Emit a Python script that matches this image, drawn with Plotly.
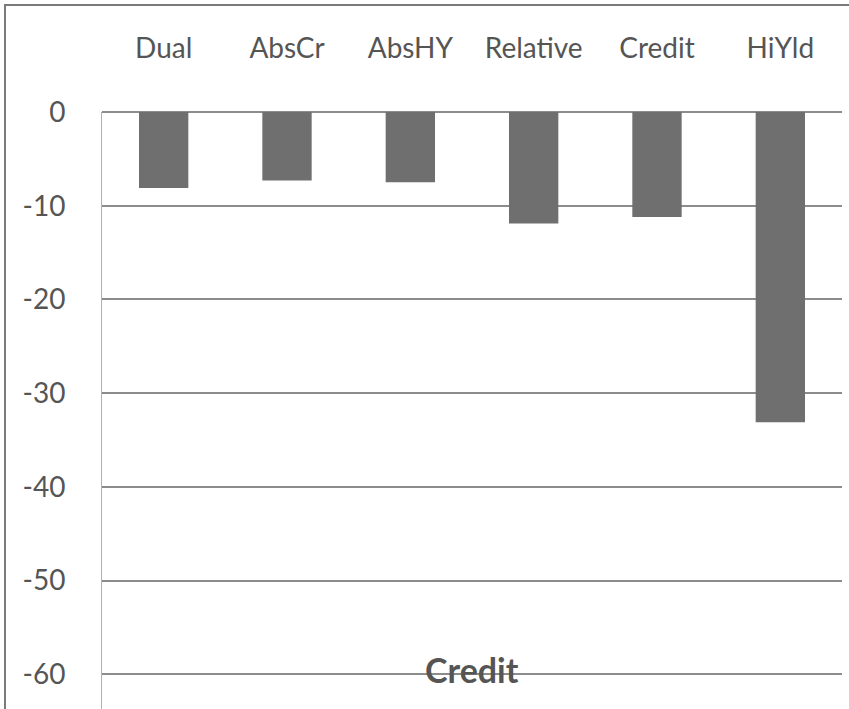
import plotly.graph_objects as go

# Drawdown by strategy (percent)
categories = ["Dual", "AbsCr", "AbsHY", "Relative", "Credit", "HiYld"]
values = [-8.1, -7.3, -7.5, -11.9, -11.2, -33.1]
tick_vals = [0, -10, -20, -30, -40, -50, -60]
tick_text = ["0", "-10", "-20", "-30", "-40", "-50", "-60"]
title_text = "Credit"

W, H = 849, 709
ML, MR, MT, MB = 102, 7, 112, 0
plot_w = W - ML - MR
plot_h = H - MT - MB

font_family = "Lato, 'Open Sans', sans-serif"
text_color = "#555555"
grid_color = "#8c8c8c"

fig = go.Figure(
    go.Bar(
        x=categories,
        y=values,
        marker=dict(color="#6f6f6f", line=dict(width=0)),
    )
)

fig.update_layout(
    width=W,
    height=H,
    margin=dict(l=ML, r=MR, t=MT, b=MB),
    paper_bgcolor="white",
    plot_bgcolor="white",
    bargap=0.6,
    showlegend=False,
    font=dict(family=font_family, size=28, color=text_color),
)

fig.update_xaxes(
    side="top",
    showgrid=False,
    showline=False,
    ticks="outside",
    ticklen=0,
    ticklabelstandoff=42,
    tickfont=dict(size=28, color=text_color),
)

fig.update_yaxes(
    range=[-63.7, 0],
    tickvals=tick_vals,
    ticktext=tick_text,
    showgrid=True,
    gridcolor=grid_color,
    gridwidth=1.5,
    zeroline=True,
    zerolinecolor=grid_color,
    zerolinewidth=1.5,
    showline=True,
    linecolor="#b0b0b0",
    linewidth=1,
    ticks="outside",
    ticklen=0,
    ticklabelstandoff=30,
    tickfont=dict(size=28, color=text_color),
)

fig.add_annotation(
    text=f"<b>{title_text}</b>",
    xref="paper",
    yref="y",
    x=0.5,
    y=-60,
    yshift=5,
    showarrow=False,
    font=dict(size=34, color="#555555", family=font_family),
)

# Chart frame (left and top edges of the outer border)
fig.add_shape(
    type="rect",
    xref="paper",
    yref="paper",
    x0=(5 - ML) / plot_w,
    x1=(W + 10 - ML) / plot_w,
    y0=-0.1,
    y1=1 + (MT - 5) / plot_h,
    line=dict(color="#7a7a7a", width=2),
    fillcolor="rgba(0,0,0,0)",
    layer="above",
)

fig.write_html("out.html")
